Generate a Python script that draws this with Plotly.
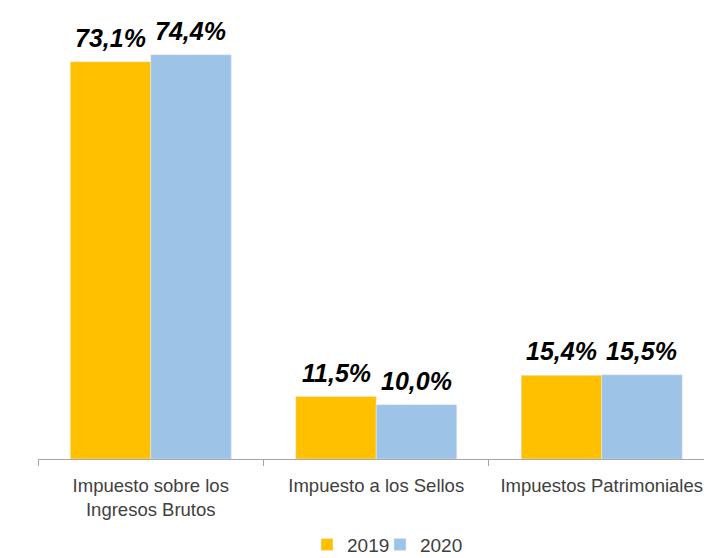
import plotly.graph_objects as go

categories = ["Impuesto sobre los<br>Ingresos Brutos", "Impuesto a los Sellos", "Impuestos Patrimoniales"]
values_2019 = [73.1, 11.5, 15.4]
values_2020 = [74.4, 10.0, 15.5]
labels_2019 = ["73,1%", "11,5%", "15,4%"]
labels_2020 = ["74,4%", "10,0%", "15,5%"]

label_font = dict(family="Liberation Sans", size=25, color="black")
legend_font = dict(family="Liberation Sans", size=19, color="#404040")

fig = go.Figure()
fig.add_trace(go.Bar(x=categories, y=values_2019, name="2019", marker_color="#FFC000", legend="legend"))
fig.add_trace(go.Bar(x=categories, y=values_2020, name="2020", marker_color="#9DC3E6", legend="legend2"))

for series, labels, shift in ((values_2019, labels_2019, -40), (values_2020, labels_2020, 40)):
    for cat, val, lab in zip(categories, series, labels):
        fig.add_annotation(x=cat, y=val, xref="x", yref="y", text="<b><i>" + lab + "</i></b>",
                           showarrow=False, xanchor="center", yanchor="bottom",
                           xshift=shift, yshift=8, font=label_font)

fig.update_layout(
    width=704, height=550,
    margin=dict(l=30, r=0, t=0, b=98.5, autoexpand=False),
    paper_bgcolor="white", plot_bgcolor="white",
    barmode="group", bargap=0.286, bargroupgap=0,
    showlegend=True,
    legend=dict(orientation="h", x=0.3991, xanchor="left", y=-0.19, yanchor="middle",
                font=legend_font, bgcolor="rgba(0,0,0,0)"),
    legend2=dict(orientation="h", x=0.5074, xanchor="left", y=-0.19, yanchor="middle",
                 font=legend_font, bgcolor="rgba(0,0,0,0)"),
    font=dict(family="Liberation Sans", size=19, color="#404040"),
)
fig.update_xaxes(
    type="category", range=[-0.5, 2.489], tickson="boundaries", ticks="outside", ticklen=6,
    tickcolor="#a6a6a6", showline=True, linecolor="#a6a6a6", linewidth=1,
    showgrid=False, ticklabelstandoff=10,
    tickfont=dict(family="Liberation Sans", size=18.5, color="#404040"),
)
fig.update_yaxes(range=[0, 83.0], visible=False, showgrid=False)

fig.write_html("out.html")
